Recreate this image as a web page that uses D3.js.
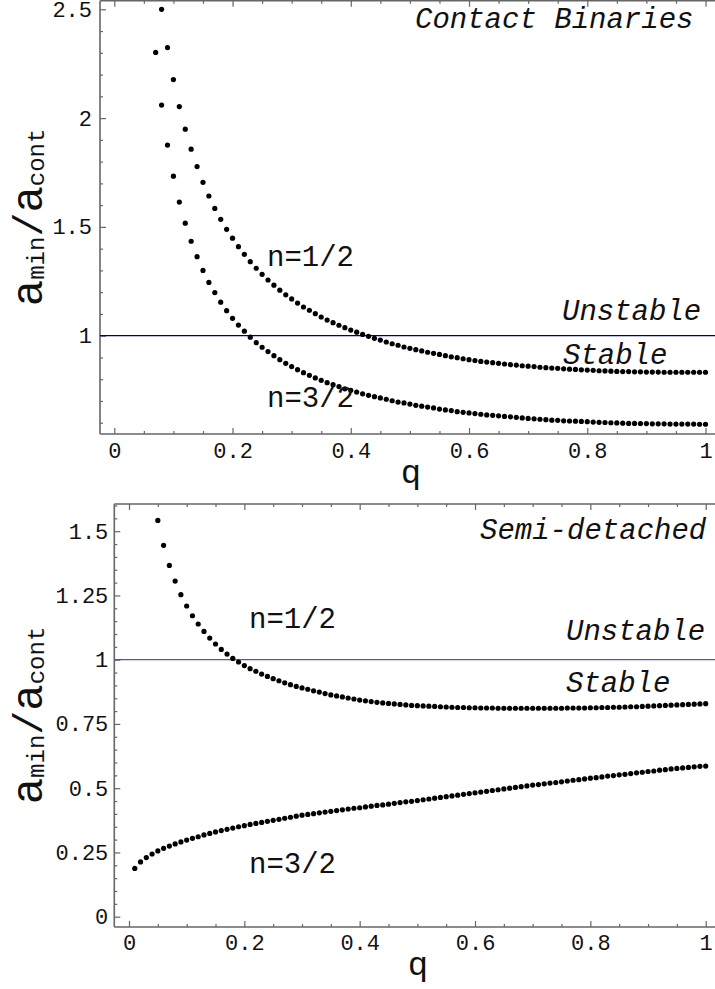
<!DOCTYPE html>
<html>
<head>
<meta charset="utf-8">
<script src="https://cdn.jsdelivr.net/npm/d3@7"></script>
<style>
  body { margin: 0; background: #fff; }
  svg { display: block; }
  text { font-family: "Liberation Mono", "Courier New", monospace; fill: #111; }
</style>
</head>
<body>
<svg id="chart" width="715" height="989"></svg>
<script>
// Mass ratio grid step shared by every series
const qStep = 0.01;

// Contact binaries, n = 1/2 (q from 0.08 to 1)
const contactHalfStart = 0.08;
const contactHalf = [
  2.500, 2.324, 2.177, 2.053, 1.949, 1.857, 1.777, 1.705, 1.642, 1.585,
  1.535, 1.489, 1.448, 1.409, 1.374, 1.340, 1.310, 1.282, 1.256, 1.232,
  1.209, 1.188, 1.169, 1.150, 1.132, 1.117, 1.101, 1.086, 1.072, 1.060,
  1.048, 1.037, 1.026, 1.016, 1.006, 0.997, 0.988, 0.980, 0.971, 0.963,
  0.956, 0.948, 0.942, 0.936, 0.930, 0.924, 0.919, 0.914, 0.908, 0.903,
  0.899, 0.894, 0.890, 0.886, 0.882, 0.879, 0.876, 0.873, 0.870, 0.867,
  0.865, 0.862, 0.860, 0.858, 0.855, 0.853, 0.851, 0.850, 0.848, 0.846,
  0.845, 0.843, 0.842, 0.841, 0.839, 0.838, 0.837, 0.836, 0.835, 0.835,
  0.834, 0.834, 0.833, 0.833, 0.833, 0.832, 0.832, 0.832, 0.832, 0.832,
  0.832, 0.832, 0.832
];

// Contact binaries, n = 3/2 (q from 0.07 to 1)
const contactThreeHalfStart = 0.07;
const contactThreeHalf = [
  2.302, 2.060, 1.876, 1.733, 1.614, 1.517, 1.434, 1.363, 1.300, 1.245,
  1.198, 1.154, 1.115, 1.080, 1.049, 1.021, 0.993, 0.968, 0.947, 0.927,
  0.908, 0.890, 0.873, 0.858, 0.844, 0.830, 0.818, 0.806, 0.795, 0.784,
  0.775, 0.766, 0.756, 0.749, 0.741, 0.733, 0.726, 0.720, 0.714, 0.708,
  0.701, 0.695, 0.691, 0.686, 0.680, 0.676, 0.672, 0.668, 0.663, 0.659,
  0.656, 0.651, 0.648, 0.645, 0.642, 0.639, 0.636, 0.634, 0.632, 0.629,
  0.627, 0.625, 0.622, 0.620, 0.618, 0.616, 0.614, 0.612, 0.611, 0.609,
  0.608, 0.607, 0.606, 0.605, 0.603, 0.602, 0.601, 0.600, 0.599, 0.598,
  0.597, 0.597, 0.596, 0.596, 0.595, 0.595, 0.595, 0.594, 0.594, 0.594,
  0.594, 0.594, 0.593, 0.593
];

// Semi-detached, n = 1/2 (q from 0.05 to 1)
const semiHalfStart = 0.05;
const semiHalf = [
  1.542, 1.445, 1.367, 1.306, 1.253, 1.209, 1.171, 1.139, 1.110, 1.084,
  1.061, 1.040, 1.022, 1.005, 0.991, 0.977, 0.965, 0.955, 0.944, 0.935,
  0.926, 0.918, 0.910, 0.903, 0.896, 0.890, 0.885, 0.879, 0.874, 0.868,
  0.863, 0.859, 0.855, 0.851, 0.847, 0.843, 0.840, 0.837, 0.834, 0.832,
  0.830, 0.828, 0.826, 0.824, 0.822, 0.821, 0.820, 0.819, 0.818, 0.817,
  0.816, 0.815, 0.814, 0.814, 0.813, 0.813, 0.812, 0.812, 0.812, 0.811,
  0.811, 0.811, 0.811, 0.811, 0.811, 0.811, 0.811, 0.811, 0.811, 0.811,
  0.811, 0.812, 0.812, 0.812, 0.812, 0.813, 0.813, 0.814, 0.814, 0.815,
  0.815, 0.816, 0.817, 0.817, 0.818, 0.819, 0.820, 0.821, 0.822, 0.823,
  0.824, 0.825, 0.826, 0.827, 0.828, 0.829
];

// Semi-detached, n = 3/2 (q from 0.01 to 1)
const semiThreeHalfStart = 0.01;
const semiThreeHalf = [
  0.188, 0.213, 0.230, 0.244, 0.256, 0.266, 0.275, 0.283, 0.291, 0.298,
  0.305, 0.311, 0.318, 0.324, 0.330, 0.335, 0.340, 0.345, 0.350, 0.354,
  0.359, 0.363, 0.367, 0.371, 0.375, 0.379, 0.383, 0.387, 0.391, 0.395,
  0.398, 0.401, 0.404, 0.407, 0.410, 0.413, 0.416, 0.419, 0.422, 0.424,
  0.427, 0.430, 0.433, 0.435, 0.438, 0.441, 0.444, 0.447, 0.449, 0.452,
  0.455, 0.458, 0.461, 0.464, 0.467, 0.470, 0.473, 0.476, 0.479, 0.482,
  0.485, 0.488, 0.491, 0.494, 0.497, 0.500, 0.503, 0.506, 0.509, 0.512,
  0.514, 0.517, 0.520, 0.522, 0.525, 0.528, 0.531, 0.533, 0.536, 0.539,
  0.541, 0.544, 0.547, 0.549, 0.552, 0.554, 0.557, 0.560, 0.562, 0.565,
  0.567, 0.570, 0.572, 0.575, 0.577, 0.579, 0.581, 0.583, 0.585, 0.586
];

// Tick values and labels
const xMajorTicks = [0, 0.2, 0.4, 0.6, 0.8, 1];
const xTickLabels = ["0", "0.2", "0.4", "0.6", "0.8", "1"];
const contactYTicks = [1, 1.5, 2, 2.5];
const contactYLabels = ["1", "1.5", "2", "2.5"];
const semiYTicks = [0, 0.25, 0.5, 0.75, 1, 1.25, 1.5];
const semiYLabels = ["0", "0.25", "0.5", "0.75", "1", "1.25", "1.5"];

// Stability boundary
const boundary = 1;

const svg = d3.select("#chart");

function toPoints(start, values) {
  return values.map((v, i) => ({ q: +(start + i * qStep).toFixed(2), v }));
}

function drawPanel(cfg) {
  const g = svg.append("g");
  const x = d3.scaleLinear().domain([0, 1]).range(cfg.xRange);
  const y = d3.scaleLinear().domain(cfg.yDomain).range(cfg.yRange);

  const left = cfg.frame.left, right = 716, top = cfg.frame.top, bottom = cfg.frame.bottom;
  const clipId = "clip-" + cfg.id;
  svg.append("clipPath").attr("id", clipId)
    .append("rect").attr("x", left).attr("y", top)
    .attr("width", right - left).attr("height", bottom - top);

  // minor ticks (every 0.05 on x)
  const xMinor = d3.range(0, 1.0001, 0.05).filter(t => xMajorTicks.every(m => Math.abs(m - t) > 1e-6));
  const yMinor = d3.range(cfg.yMinorFrom, cfg.yMinorTo + 1e-6, cfg.yMinorStep)
    .filter(t => cfg.yTicks.every(m => Math.abs(m - t) > 1e-6));

  const frameColor = "#666";

  // bottom axis
  const xAxis = d3.axisBottom(x).tickValues(xMajorTicks)
    .tickFormat((d, i) => xTickLabels[i]).tickSizeInner(-6).tickSizeOuter(0).tickPadding(cfg.xPad);
  const gx = g.append("g").attr("transform", `translate(0,${bottom})`).call(xAxis);
  const xAxisMinor = d3.axisBottom(x).tickValues(xMinor).tickFormat("").tickSizeInner(-3).tickSizeOuter(0);
  const gxm = g.append("g").attr("transform", `translate(0,${bottom})`).call(xAxisMinor);

  // top border ticks
  const gxt = g.append("g").attr("transform", `translate(0,${top})`)
    .call(d3.axisTop(x).tickValues(xMajorTicks).tickFormat("").tickSizeInner(-6).tickSizeOuter(0));
  const gxtm = g.append("g").attr("transform", `translate(0,${top})`)
    .call(d3.axisTop(x).tickValues(xMinor).tickFormat("").tickSizeInner(-3).tickSizeOuter(0));

  // left axis
  const yAxis = d3.axisLeft(y).tickValues(cfg.yTicks)
    .tickFormat((d, i) => cfg.yLabels[i]).tickSizeInner(-6).tickSizeOuter(0).tickPadding(cfg.yPad);
  const gy = g.append("g").attr("transform", `translate(${left},0)`).call(yAxis);
  const gym = g.append("g").attr("transform", `translate(${left},0)`)
    .call(d3.axisLeft(y).tickValues(yMinor).tickFormat("").tickSizeInner(-3).tickSizeOuter(0));

  [gx, gxm, gxt, gxtm, gy, gym].forEach(a => {
    a.select(".domain").remove();
    a.selectAll(".tick line").attr("stroke", frameColor).attr("stroke-width", 1.2);
    a.selectAll(".tick text").attr("font-size", 22).attr("font-family", "Liberation Mono").attr("fill", "#111");
  });

  // frame lines
  g.append("line").attr("x1", left).attr("x2", right).attr("y1", bottom).attr("y2", bottom)
    .attr("stroke", frameColor).attr("stroke-width", 1.6);
  g.append("line").attr("x1", left).attr("x2", right).attr("y1", top).attr("y2", top)
    .attr("stroke", frameColor).attr("stroke-width", 1.6);
  g.append("line").attr("x1", left).attr("x2", left).attr("y1", top).attr("y2", bottom)
    .attr("stroke", frameColor).attr("stroke-width", 1.6);

  // stability boundary a_min/a_cont = 1
  g.append("line").attr("x1", left).attr("x2", right)
    .attr("y1", y(boundary)).attr("y2", y(boundary))
    .attr("stroke", cfg.lineColor).attr("stroke-width", 1.2);

  // sampled curves
  const dots = g.append("g").attr("clip-path", `url(#${clipId})`);
  cfg.series.forEach(s => {
    dots.selectAll(null).data(toPoints(s.start, s.values)).join("circle")
      .attr("cx", d => x(d.q)).attr("cy", d => y(d.v)).attr("r", 2.6).attr("fill", "#000");
  });

  // annotations
  cfg.notes.forEach(n => {
    g.append("text").attr("x", n.x).attr("y", n.y).attr("font-size", 29)
      .attr("font-style", n.italic ? "italic" : "normal")
      .attr("text-anchor", n.anchor || "start").text(n.text);
  });

  // axis titles
  g.append("text").attr("x", cfg.qLabel[0]).attr("y", cfg.qLabel[1])
    .attr("text-anchor", "middle").attr("font-size", 34).text("q");

  const yl = g.append("text")
    .attr("transform", `translate(42,${(top + bottom) / 2}) rotate(-90)`)
    .attr("text-anchor", "middle");
  yl.append("tspan").attr("font-size", 44).text("a");
  yl.append("tspan").attr("font-size", 24).attr("dy", 2).text("min");
  yl.append("tspan").attr("font-size", 40).attr("dy", -2).text("/");
  yl.append("tspan").attr("font-size", 44).text("a");
  yl.append("tspan").attr("font-size", 24).attr("dy", 2).text("cont");
}

drawPanel({
  id: "contact",
  xRange: [114.3, 705.5],
  yDomain: [1, 2.5], yRange: [335.7, 9.3],
  frame: { left: 100, top: 0.8, bottom: 434 },
  yTicks: contactYTicks, yLabels: contactYLabels,
  yMinorFrom: 0.6, yMinorTo: 2.5, yMinorStep: 0.1,
  xPad: 8, yPad: 8,
  lineColor: "#000080",
  series: [
    { start: contactHalfStart, values: contactHalf },
    { start: contactThreeHalfStart, values: contactThreeHalf }
  ],
  notes: [
    { text: "Contact Binaries", x: 415, y: 28, italic: true },
    { text: "n=1/2", x: 267, y: 266 },
    { text: "n=3/2", x: 267, y: 407 },
    { text: "Unstable", x: 562, y: 320, italic: true },
    { text: "Stable", x: 563, y: 364, italic: true }
  ],
  qLabel: [411, 483]
});

drawPanel({
  id: "semi",
  xRange: [129, 705.7],
  yDomain: [0, 1], yRange: [916.7, 659.7],
  frame: { left: 114.3, top: 504, bottom: 927 },
  yTicks: semiYTicks, yLabels: semiYLabels,
  yMinorFrom: 0, yMinorTo: 1.6, yMinorStep: 0.05,
  xPad: 7, yPad: 6,
  lineColor: "#5555aa",
  series: [
    { start: semiHalfStart, values: semiHalf },
    { start: semiThreeHalfStart, values: semiThreeHalf }
  ],
  notes: [
    { text: "Semi-detached", x: 480, y: 539, italic: true },
    { text: "n=1/2", x: 249, y: 628 },
    { text: "n=3/2", x: 249, y: 873 },
    { text: "Unstable", x: 566, y: 640, italic: true },
    { text: "Stable", x: 566, y: 692, italic: true }
  ],
  qLabel: [418, 975]
});
</script>
</body>
</html>
